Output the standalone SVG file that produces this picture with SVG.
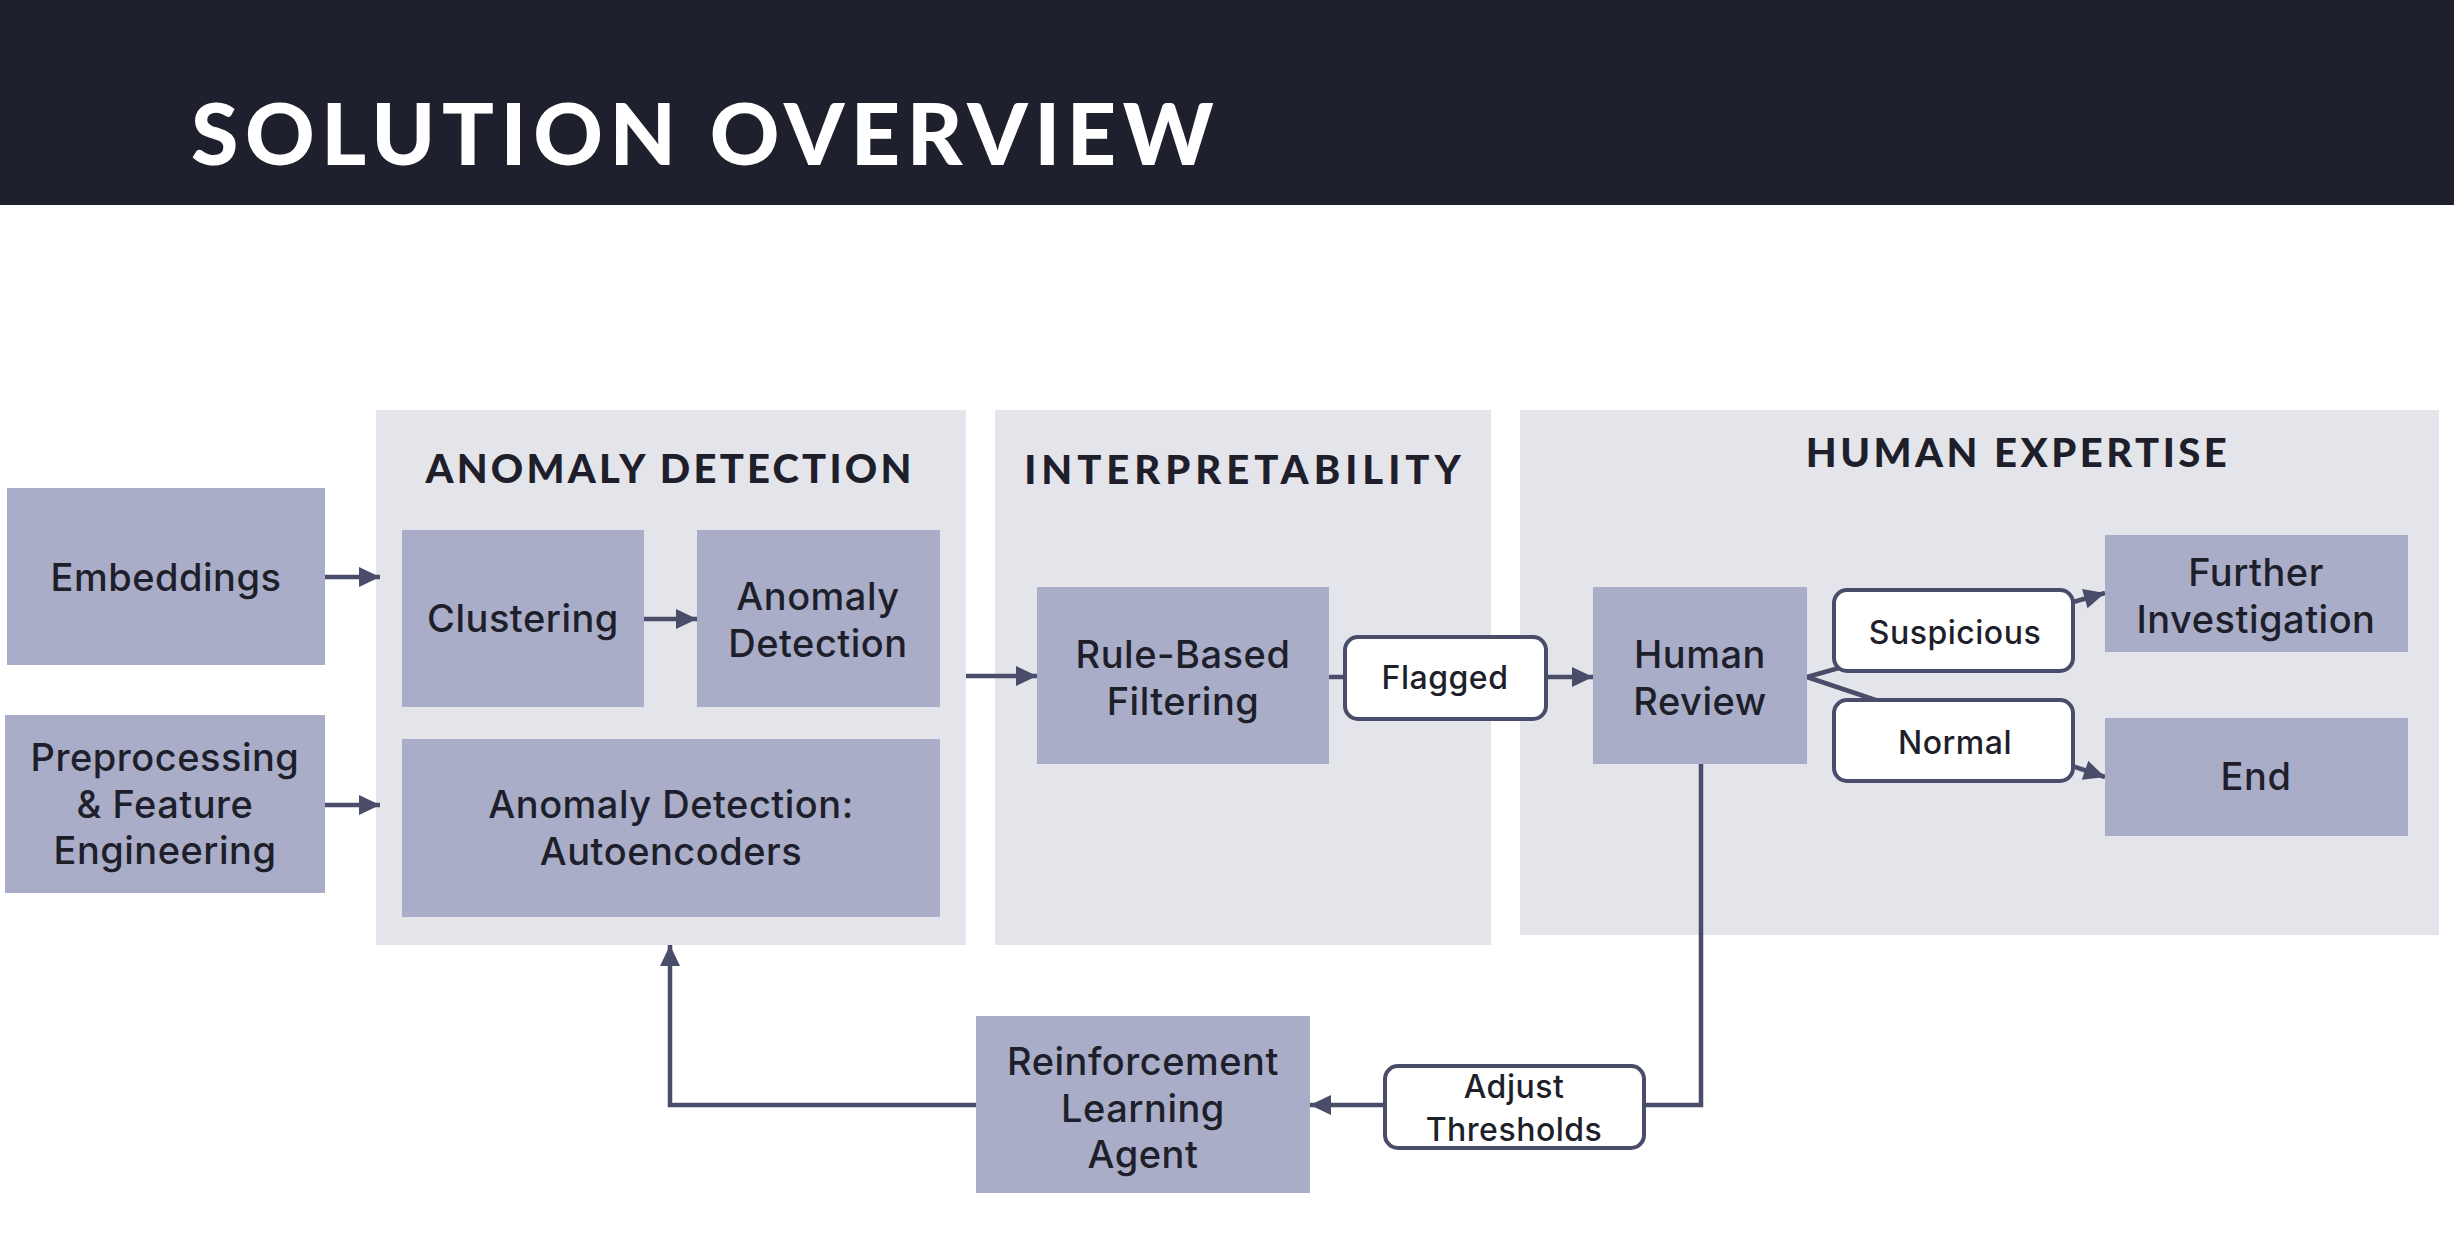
<svg xmlns="http://www.w3.org/2000/svg" width="2454" height="1250" viewBox="0 0 2454 1250">
<defs>
<style>
.bg{fill:#ffffff}
.hdr{fill:#1f202d}
.cont{fill:#e4e5eb}
.node{fill:#a9adc7}
.pill{fill:#ffffff;stroke:#4a4d6a;stroke-width:4}
.t{font-family:Inter,"Open Sans","Liberation Sans",sans-serif;font-size:38px;font-weight:500;fill:#1e1f2b;text-anchor:middle;letter-spacing:0.5px}
.lt{font-family:Inter,"Open Sans","Liberation Sans",sans-serif;font-size:32px;font-weight:500;fill:#1e1f2b;text-anchor:middle;letter-spacing:0.5px}
.h{font-family:Lato,"Noto Sans","Liberation Sans",sans-serif;font-size:40px;font-weight:900;fill:#1e1f2b;text-anchor:middle}
.title{font-family:Lato,"Noto Sans","Liberation Sans",sans-serif;font-size:86px;font-weight:900;fill:#ffffff;letter-spacing:6.6px}
.c{fill:none;stroke:#4a4d6a;stroke-width:4.5}
</style>
<marker id="ah" markerUnits="userSpaceOnUse" markerWidth="24" markerHeight="24" viewBox="0 0 24 24" refX="22" refY="12" orient="auto">
<path d="M1,2 L22,12 L1,22 Z" fill="#4a4d6a"/>
</marker>
</defs>
<rect class="bg" x="0" y="0" width="2454" height="1250"/>
<g id="header">
<rect class="hdr" x="0" y="0" width="2454" height="205"/>
<text class="title" x="191" y="165">SOLUTION OVERVIEW</text>
</g>
<g id="group-anomaly">
<rect class="cont" x="376" y="410" width="590" height="535"/>
<text class="h" x="670" y="483" letter-spacing="3.2">ANOMALY DETECTION</text>
</g>
<g id="group-interpretability">
<rect class="cont" x="995" y="410" width="496" height="535"/>
<text class="h" x="1245" y="484" letter-spacing="5">INTERPRETABILITY</text>
</g>
<g id="group-human">
<rect class="cont" x="1520" y="410" width="919" height="525"/>
<text class="h" x="2018" y="467" letter-spacing="3.5">HUMAN EXPERTISE</text>
</g>
<g id="connectors">
<line class="c" x1="325" y1="577" x2="380" y2="577" marker-end="url(#ah)"/>
<line class="c" x1="325" y1="805" x2="380" y2="805" marker-end="url(#ah)"/>
<line class="c" x1="644" y1="619" x2="697" y2="619" marker-end="url(#ah)"/>
<line class="c" x1="966" y1="676" x2="1037" y2="676" marker-end="url(#ah)"/>
<line class="c" x1="1329" y1="677" x2="1345" y2="677"/>
<line class="c" x1="1546" y1="677" x2="1593" y2="677" marker-end="url(#ah)"/>
<line class="c" x1="1807" y1="677" x2="2105" y2="593" marker-end="url(#ah)"/>
<line class="c" x1="1807" y1="677" x2="2105" y2="777" marker-end="url(#ah)"/>
<polyline class="c" points="1701,764 1701,1105 1644,1105"/>
<line class="c" x1="1383" y1="1105" x2="1310" y2="1105" marker-end="url(#ah)"/>
<polyline class="c" points="976,1105 670,1105 670,945" marker-end="url(#ah)"/>
</g>
<g id="embeddings">
<rect class="node" x="7" y="488" width="318" height="177"/>
<text class="t" x="166" y="591">Embeddings</text>
</g>
<g id="preprocessing">
<rect class="node" x="5" y="715" width="320" height="178"/>
<text class="t" x="165" y="771">Preprocessing</text>
<text class="t" x="165" y="817.5">&amp; Feature</text>
<text class="t" x="165" y="864">Engineering</text>
</g>
<g id="clustering">
<rect class="node" x="402" y="530" width="242" height="177"/>
<text class="t" x="523" y="632">Clustering</text>
</g>
<g id="anomaly-detection">
<rect class="node" x="697" y="530" width="243" height="177"/>
<text class="t" x="818" y="610">Anomaly</text>
<text class="t" x="818" y="656.5">Detection</text>
</g>
<g id="autoencoders">
<rect class="node" x="402" y="739" width="538" height="178"/>
<text class="t" x="671" y="818">Anomaly Detection:</text>
<text class="t" x="671" y="865">Autoencoders</text>
</g>
<g id="rule-based">
<rect class="node" x="1037" y="587" width="292" height="177"/>
<text class="t" x="1183" y="668">Rule-Based</text>
<text class="t" x="1183" y="714.5">Filtering</text>
</g>
<g id="flagged">
<rect class="pill" x="1345" y="637" width="201" height="82" rx="13"/>
<text class="lt" x="1445" y="689">Flagged</text>
</g>
<g id="human-review">
<rect class="node" x="1593" y="587" width="214" height="177"/>
<text class="t" x="1700" y="668">Human</text>
<text class="t" x="1700" y="714.5">Review</text>
</g>
<g id="suspicious">
<rect class="pill" x="1834" y="590" width="239" height="81" rx="13"/>
<text class="lt" x="1955" y="644">Suspicious</text>
</g>
<g id="normal">
<rect class="pill" x="1834" y="700" width="239" height="81" rx="13"/>
<text class="lt" x="1955" y="754">Normal</text>
</g>
<g id="further-investigation">
<rect class="node" x="2105" y="535" width="303" height="117"/>
<text class="t" x="2256" y="586">Further</text>
<text class="t" x="2256" y="633">Investigation</text>
</g>
<g id="end">
<rect class="node" x="2105" y="718" width="303" height="118"/>
<text class="t" x="2256" y="790">End</text>
</g>
<g id="rl-agent">
<rect class="node" x="976" y="1016" width="334" height="177"/>
<text class="t" x="1143" y="1075">Reinforcement</text>
<text class="t" x="1143" y="1121.5">Learning</text>
<text class="t" x="1143" y="1168">Agent</text>
</g>
<g id="adjust-thresholds">
<rect class="pill" x="1385" y="1066" width="259" height="82" rx="13"/>
<text class="lt" x="1514" y="1098">Adjust</text>
<text class="lt" x="1514" y="1141">Thresholds</text>
</g>
</svg>
